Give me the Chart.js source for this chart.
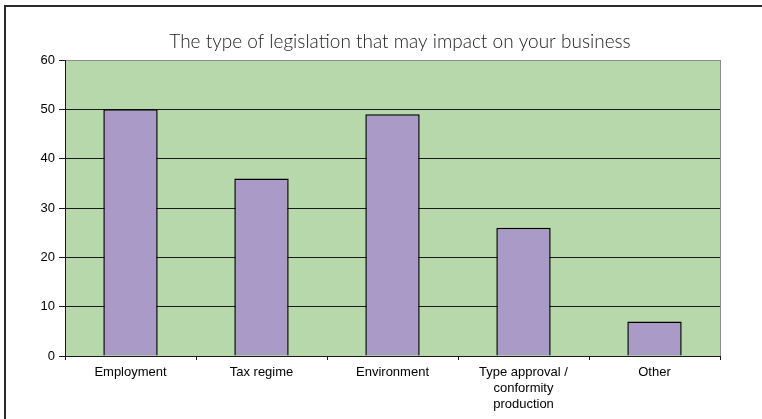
<!DOCTYPE html>
<html>
<head>
<meta charset="utf-8">
<script src="https://cdn.jsdelivr.net/npm/chart.js@4/dist/chart.umd.min.js"></script>
<style>
  html, body { margin: 0; padding: 0; background: #ffffff; }
  #wrap { width: 762px; height: 419px; position: relative; }
</style>
</head>
<body>
<div id="wrap"><canvas id="chart" width="762" height="419"></canvas></div>
<script>
// Survey responses: areas of legislation that may affect the business
const chartTitle = 'The type of legislation that may impact on your business';
const categories = [
  'Employment',
  'Tax regime',
  'Environment',
  ['Type approval /', 'conformity', 'production'],
  'Other'
];
const responses = [50, 36, 49, 26, 7];
const yMin = 0;
const yMax = 60;
const yStep = 10;

const plotGreen = '#b6d8aa';
const barPurple = '#a99ac7';

// Frame, plot background, plot border and title
const decorations = {
  id: 'decorations',
  beforeDraw(chart) {
    const { ctx, chartArea: a } = chart;
    ctx.save();
    // outer frame (top and left edges)
    ctx.strokeStyle = '#2b2b2b';
    ctx.lineWidth = 2;
    ctx.beginPath();
    ctx.moveTo(5, chart.height);
    ctx.lineTo(5, 6);
    ctx.lineTo(chart.width, 6);
    ctx.stroke();
    // plot area fill
    ctx.fillStyle = plotGreen;
    ctx.fillRect(a.left, a.top, a.right - a.left, a.bottom - a.top);
    // grey plot border on the right
    ctx.strokeStyle = '#8c8c8c';
    ctx.lineWidth = 1;
    ctx.beginPath();
    ctx.moveTo(a.right + 0.5, a.top);
    ctx.lineTo(a.right + 0.5, a.bottom);
    ctx.stroke();
    // title
    ctx.fillStyle = '#1a1a1a';
    ctx.font = '300 19px Lato, "Open Sans", sans-serif';
    ctx.textAlign = 'center';
    ctx.textBaseline = 'alphabetic';
    ctx.fillText(chartTitle, 400, 48);
    ctx.restore();
  }
};

new Chart(document.getElementById('chart'), {
  type: 'bar',
  data: {
    labels: categories,
    datasets: [{
      data: responses,
      backgroundColor: barPurple,
      borderColor: '#000000',
      borderWidth: 1.5,
      barPercentage: 0.415,
      categoryPercentage: 1.0
    }]
  },
  options: {
    responsive: false,
    animation: false,
    devicePixelRatio: 1,
    layout: { padding: { left: 0, right: 42, top: 60, bottom: 0 } },
    plugins: {
      legend: { display: false },
      title: { display: false },
      tooltip: { enabled: false }
    },
    scales: {
      x: {
        offset: true,
        grid: {
          offset: true,
          drawOnChartArea: false,
          drawTicks: true,
          tickLength: 4,
          color: '#1a1a1a'
        },
        border: { display: true, color: '#1a1a1a', width: 1 },
        ticks: {
          color: '#000000',
          font: { family: '"Liberation Sans", Arial, sans-serif', size: 13, lineHeight: 1.2 },
          padding: 5,
          maxRotation: 0,
          autoSkip: false
        },
        afterFit(scale) { scale.height = 63; }
      },
      y: {
        min: yMin,
        max: yMax,
        grid: {
          color: (c) => (c.tick && c.tick.value === yMax ? '#8c8c8c' : '#1a1a1a'),
          tickColor: '#1a1a1a',
          tickLength: 6,
          lineWidth: 1
        },
        border: { display: true, color: '#1a1a1a', width: 1 },
        ticks: {
          stepSize: yStep,
          color: '#000000',
          font: { family: '"Liberation Sans", Arial, sans-serif', size: 13 },
          padding: 4
        },
        afterFit(scale) { scale.width = 65; }
      }
    }
  },
  plugins: [decorations]
});
</script>
</body>
</html>
